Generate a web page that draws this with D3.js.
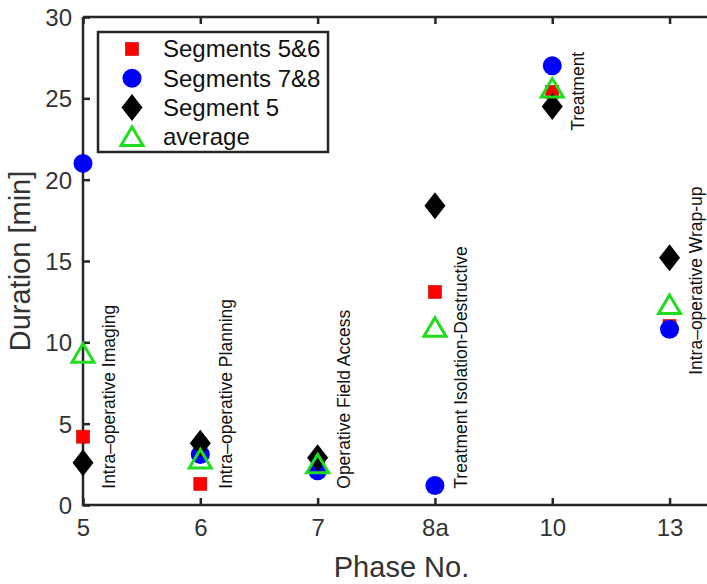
<!DOCTYPE html>
<html lang="en">
<head>
<meta charset="utf-8">
<script src="https://cdn.jsdelivr.net/npm/d3@7"></script>
<style>
  body { margin: 0; background: #fff; }
  svg { display: block; font-family: Arial, "Liberation Sans", Helvetica, sans-serif; }
</style>
</head>
<body>
<script>
// chart data
const phases = ["5", "6", "7", "8a", "10", "13"];
const seg56 = [4.2, 1.3, 2.5, 13.1, 25.4, 11.0];
const seg78 = [21.0, 3.1, 2.1, 1.2, 27.0, 10.8];
const seg5 = [2.6, 3.8, 2.9, 18.4, 24.5, 15.2];
const avg = [9.3, 2.8, 2.5, 10.9, 25.6, 12.3];
const phaseNames = ["Intra\u2013operative Imaging", "Intra\u2013operative Planning", "Operative Field Access",
  "Treatment Isolation-Destructive", "Treatment", "Intra\u2013operative Wrap-up"];
const annotY = [1, 1, 1, 1, 23, 8];
const yTicks = [0, 5, 10, 15, 20, 25, 30];
const seriesNames = ["Segments 5&6", "Segments 7&8", "Segment 5", "average"];

const w = 707, h = 584;
const padLeft = 83, padRight = 720, padTop = 17, padBottom = 505;
const axisColor = "#262626";

const svg = d3.select("body").append("svg")
  .attr("width", w).attr("height", h);

// phase index -> x, the last category sits short of the right edge
const xMax = phases.length - 0.57;
const x = d3.scaleLinear().domain([0, xMax]).range([padLeft, padRight]);
const y = d3.scaleLinear().domain([0, 30]).range([padBottom, padTop]);

// marker drawing
function square(g) {
  g.append("rect").attr("x", -6.5).attr("y", -6.5).attr("width", 13).attr("height", 13)
    .attr("fill", "#ff0000").attr("stroke", "#c00000").attr("stroke-width", 0.6);
}
function circle(g) {
  g.append("circle").attr("r", 9.5).attr("fill", "#0000ff");
}
function diamond(g) {
  g.append("path").attr("d", "M0,-13.5L10.5,0L0,13.5L-10.5,0Z").attr("fill", "#000");
}
function triangle(g) {
  g.append("path").attr("d", "M0,-10L11,8.5L-11,8.5Z")
    .attr("fill", "none").attr("stroke", "#1fdc1f").attr("stroke-width", 3)
    .attr("stroke-linejoin", "miter");
}
const markers = [square, circle, diamond, triangle];
const series = [seg56, seg78, seg5, avg];

// axes box
svg.append("path")
  .attr("d", `M${padLeft},${padTop}H${padRight}M${padLeft},${padTop}V${padBottom}H${padRight}`)
  .attr("stroke", axisColor).attr("stroke-width", 2.5).attr("fill", "none");

// y axis
const yAxis = d3.axisLeft(y).tickValues(yTicks).tickSize(-7).tickPadding(11);
const gy = svg.append("g").attr("transform", `translate(${padLeft},0)`).call(yAxis);
gy.select(".domain").remove();
gy.selectAll(".tick line").attr("stroke", axisColor).attr("stroke-width", 2.5);
gy.selectAll(".tick text").attr("fill", "#333").style("font-size", "24px")
  .attr("x", -11).attr("dy", "0.35em");

// x axis (bottom and top ticks)
const xAxis = d3.axisBottom(x).tickValues(d3.range(phases.length))
  .tickFormat(i => phases[i]).tickSize(-7).tickPadding(14);
const gx = svg.append("g").attr("transform", `translate(0,${padBottom})`).call(xAxis);
gx.select(".domain").remove();
gx.selectAll(".tick line").attr("stroke", axisColor).attr("stroke-width", 2.5);
gx.selectAll(".tick text").attr("fill", "#333").style("font-size", "24px");

const xTop = d3.axisTop(x).tickValues(d3.range(phases.length)).tickFormat("").tickSize(-7);
const gt = svg.append("g").attr("transform", `translate(0,${padTop})`).call(xTop);
gt.select(".domain").remove();
gt.selectAll(".tick line").attr("stroke", axisColor).attr("stroke-width", 2.5);

// axis titles
svg.append("text").attr("x", x(xMax / 2)).attr("y", 577)
  .attr("text-anchor", "middle").attr("fill", "#333").style("font-size", "29px")
  .text("Phase No.");
svg.append("text").attr("transform", `translate(30,${(padTop + padBottom) / 2}) rotate(-90)`)
  .attr("text-anchor", "middle").attr("fill", "#333").style("font-size", "29px")
  .text("Duration [min]");

// phase annotations
svg.append("g").selectAll("text").data(phaseNames).join("text")
  .attr("transform", (d, i) => `translate(${x(i) + 32},${y(annotY[i])}) rotate(-90)`)
  .attr("fill", "#111").style("font-size", "17.5px")
  .text(d => d);

// points
series.forEach((vals, s) => {
  svg.append("g").selectAll("g").data(vals).join("g")
    .attr("transform", (d, i) => `translate(${x(i)},${y(d)})`)
    .each(function () { markers[s](d3.select(this)); });
});

// legend
const lg = svg.append("g");
lg.append("rect").attr("x", 98).attr("y", 32).attr("width", 230).attr("height", 120)
  .attr("fill", "#fff").attr("stroke", axisColor).attr("stroke-width", 2.5);
seriesNames.forEach((name, i) => {
  const row = lg.append("g").attr("transform", `translate(132,${49 + i * 29.3})`);
  markers[i](row);
  row.append("text").attr("x", 31).attr("dy", "0.35em").attr("fill", "#111")
    .style("font-size", "24px").text(name);
});
</script>
</body>
</html>
